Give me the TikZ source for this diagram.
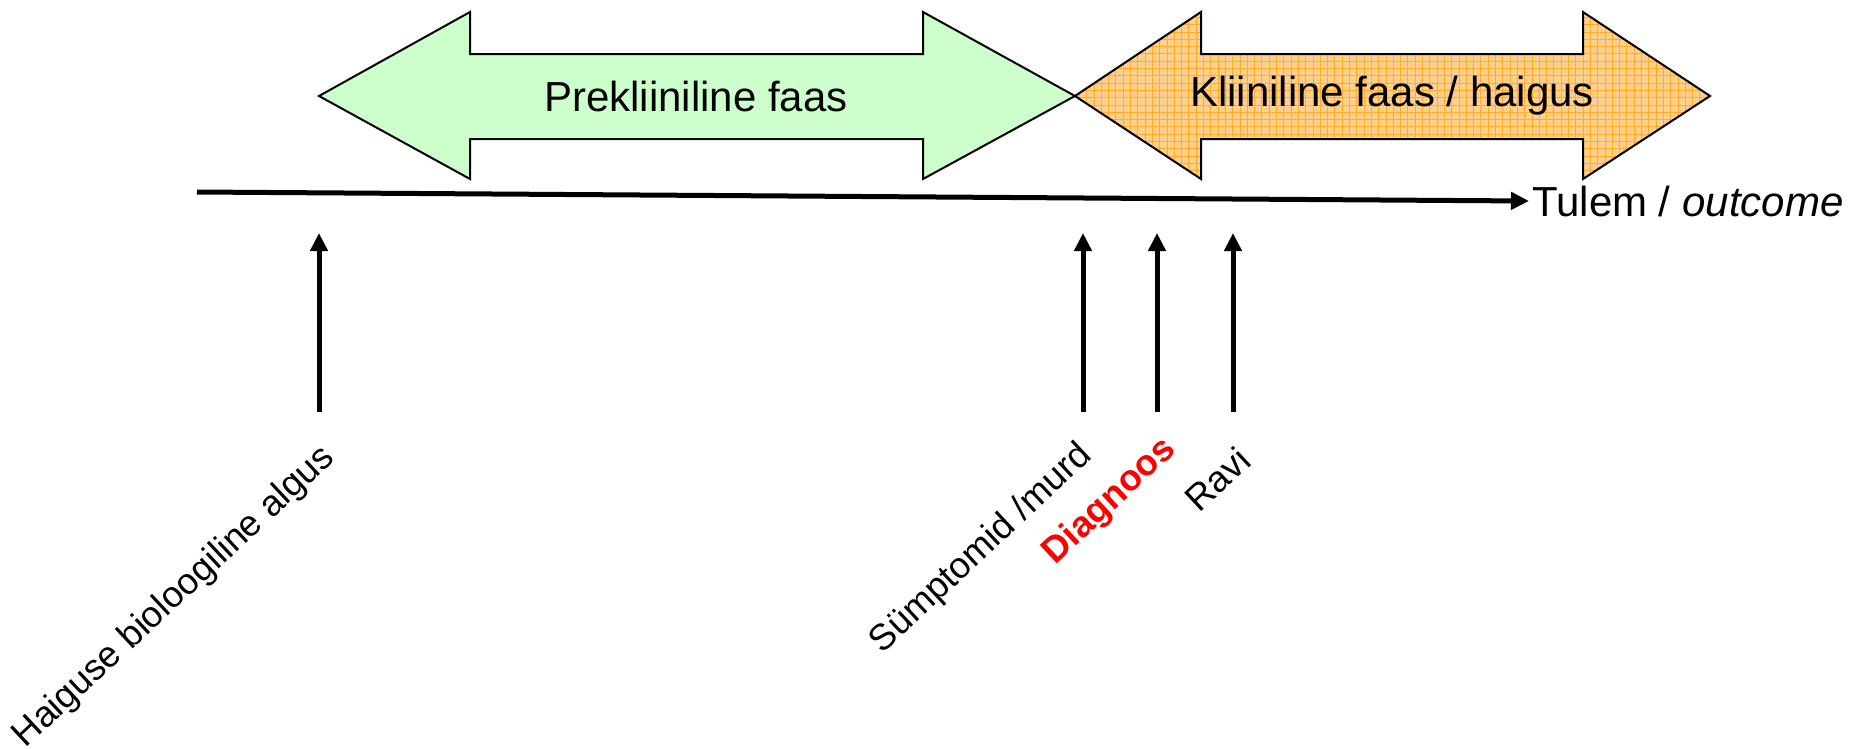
\documentclass[tikz,border=0pt]{standalone}
\usepackage{fontspec}
\setmainfont{Liberation Sans}
\usetikzlibrary{arrows.meta}
\definecolor{greenfill}{RGB}{204,255,204}
\definecolor{orangefill}{RGB}{255,208,140}
\definecolor{orangegrid}{RGB}{255,172,40}
\definecolor{diagred}{RGB}{255,0,0}
\begin{document}
\begin{tikzpicture}[x=1pt,y=-1pt,
  phase/.style={draw=black,line width=2pt,line join=miter},
  ptr/.style={line width=5pt,-{Triangle[width=17pt,length=18pt]}},
  biglbl/.style={font=\fontsize{42}{48}\selectfont,inner sep=0pt},
  evlbl/.style={font=\fontsize{36.5}{42}\selectfont,rotate=43,anchor=north east,inner sep=0pt}]
\useasboundingbox (0,0) rectangle (1872,748);
% green (preclinical) double arrow
\path[phase,fill=greenfill] (319,96) -- (470,12) -- (470,54) -- (923,54) -- (923,12) -- (1075,96)
  -- (923,179) -- (923,139) -- (470,139) -- (470,179) -- cycle;
% orange (clinical) double arrow with grid texture
\begin{scope}
  \clip (1075,96) -- (1201,12) -- (1201,54) -- (1583,54) -- (1583,12) -- (1710,96)
    -- (1583,179) -- (1583,139) -- (1201,139) -- (1201,179) -- cycle;
  \fill[orangefill] (1070,8) rectangle (1715,185);
  \foreach \i in {0,...,89} {
    \draw[orangegrid,line width=0.8pt] (1072+7.3*\i,8) -- (1072+7.3*\i,185);
  }
  \foreach \j in {0,...,24} {
    \draw[orangegrid,line width=0.8pt] (1070,10+7.3*\j) -- (1715,10+7.3*\j);
  }
\end{scope}
\path[phase] (1075,96) -- (1201,12) -- (1201,54) -- (1583,54) -- (1583,12) -- (1710,96)
  -- (1583,179) -- (1583,139) -- (1201,139) -- (1201,179) -- cycle;
\node[biglbl] (pre) at (696,96) {Prekliiniline faas};
\node[biglbl] (kli) at (1392,96) {Kliiniline faas / haigus};
% timeline
\coordinate (t0) at (197,192);
\node[biglbl,anchor=west] (out) at (1532,201) {Tulem / \textit{outcome}};
\draw[ptr] (t0) -- ([xshift=-3pt]out.west);
% event arrows
\coordinate (e1) at (319,412); \coordinate (e1t) at (319,233);
\coordinate (e2) at (1083,412); \coordinate (e2t) at (1083,233);
\coordinate (e3) at (1157,412); \coordinate (e3t) at (1157,233);
\coordinate (e4) at (1233,412); \coordinate (e4t) at (1233,233);
\draw[ptr] (e1) -- (e1t);
\draw[ptr] (e2) -- (e2t);
\draw[ptr] (e3) -- (e3t);
\draw[ptr] (e4) -- (e4t);
% event labels
\node[evlbl] (l1) at (318,440) {Haiguse bioloogiline algus};
\node[evlbl] (l2) at (1075,438) {Sümptomid /murd};
\node[evlbl,text=diagred,font=\fontsize{36.5}{42}\selectfont\bfseries] (l3) at (1159,432) {Diagnoos};
\node[evlbl] (l4) at (1235,444) {Ravi};
\end{tikzpicture}
\end{document}
